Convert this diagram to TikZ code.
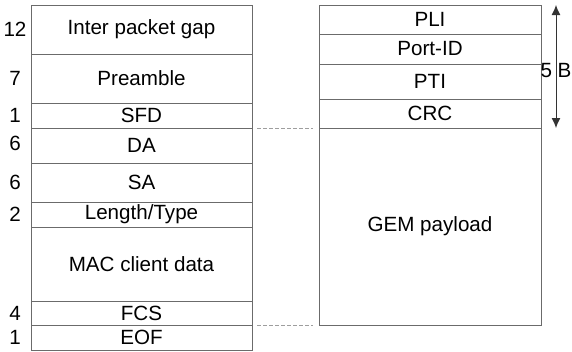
\documentclass[tikz,border=0pt]{standalone}
\usepackage{fontspec}
\setmainfont{Liberation Sans}
\usetikzlibrary{positioning,arrows.meta}
\definecolor{framegray}{rgb}{0.42,0.42,0.42}
\definecolor{gapgray}{rgb}{0.62,0.62,0.62}
\tikzstyle{field} = [draw=framegray, rectangle, line width=1pt, outer sep=0pt,
    inner sep=0pt, font=\fontsize{20.6}{24}\selectfont]
\tikzstyle{lfield} = [field, minimum width=221pt]
\tikzstyle{rfield} = [field, minimum width=222pt]
\tikzstyle{count} = [inner sep=0pt, font=\fontsize{20.6}{24}\selectfont]
\tikzstyle{gapline} = [draw=gapgray, line width=0.7pt, dash pattern=on 4pt off 2pt]

\begin{document}
\begin{tikzpicture}[x=1pt, y=1pt, node distance=0pt, >={Latex[length=10pt,width=9pt]}]
    \useasboundingbox (0,0) rectangle (572,-351);
    % Ethernet frame
    \node [lfield, minimum height=49pt, anchor=north west] (ipg) at (31,-5) {Inter packet gap};
    \node [lfield, minimum height=49pt, below=of ipg] (pre) {Preamble};
    \node [lfield, minimum height=25pt, below=of pre] (sfd) {SFD};
    \node [lfield, minimum height=35pt, below=of sfd] (da) {DA};
    \node [lfield, minimum height=39pt, below=of da] (sa) {SA};
    \node [lfield, minimum height=25pt, below=of sa] (lt) {Length/Type};
    \node [lfield, minimum height=74pt, below=of lt] (mac) {MAC client data};
    \node [lfield, minimum height=24pt, below=of mac] (fcs) {FCS};
    \node [lfield, minimum height=25pt, below=of fcs] (eof) {EOF};

    \node [count] (nipg) at ([xshift=-16pt]ipg.west) {12};
    \node [count] (npre) at ([xshift=-16pt]pre.west) {7};
    \node [count] (nsfd) at ([xshift=-16pt]sfd.west) {1};
    \node [count] (nda) at ([xshift=-16pt,yshift=2pt]da.west) {6};
    \node [count] (nsa) at ([xshift=-16pt]sa.west) {6};
    \node [count] (nlt) at ([xshift=-16pt]lt.west) {2};
    \node [count] (nfcs) at ([xshift=-16pt]fcs.west) {4};
    \node [count] (neof) at ([xshift=-16pt]eof.west) {1};

    % GEM frame
    \node [rfield, minimum height=29pt, anchor=north west] (pli) at (319,-5) {PLI};
    \node [rfield, minimum height=30pt, below=of pli] (port) {Port-ID};
    \node [rfield, minimum height=35pt, below=of port] (pti) {PTI};
    \node [rfield, minimum height=29pt, below=of pti] (crc) {CRC};
    \node [rfield, minimum height=197pt, below=of crc] (gem) {GEM payload};

    \draw [gapline] ([xshift=5pt]da.north east) -- ([xshift=-6pt]gem.north west);
    \draw [gapline] ([xshift=5pt]eof.north east) -- ([xshift=-6pt]gem.south west);

    \coordinate [right=15pt of pli.north east] (htop);
    \coordinate [right=15pt of crc.south east] (hbot);
    \draw [<->, line width=1pt, draw=black!80] (htop) -- node [pos=0.53, count] {5 B} (hbot);
\end{tikzpicture}
\end{document}
